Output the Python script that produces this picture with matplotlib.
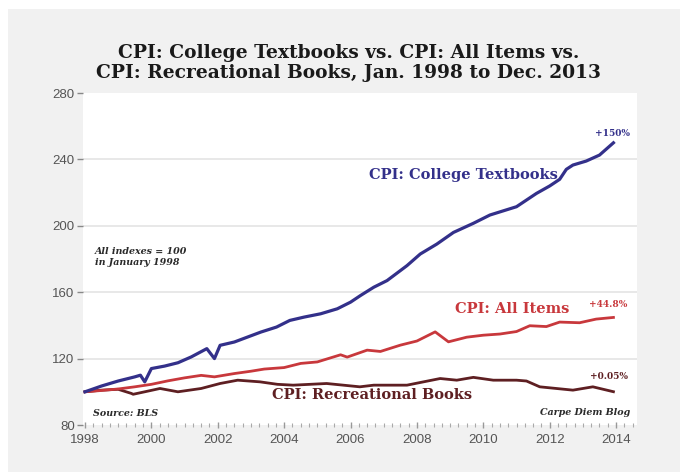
import matplotlib
matplotlib.use("Agg")
import matplotlib.pyplot as plt
from matplotlib.patches import Rectangle
from matplotlib.ticker import MultipleLocator

# ---------------- data ----------------
tb_x = [1998.0, 1998.5, 1999.0, 1999.5, 1999.67, 1999.8, 2000.0, 2000.4, 2000.8,
        2001.2, 2001.67, 2001.9, 2002.07, 2002.5, 2002.9, 2003.3, 2003.77, 2004.17,
        2004.6, 2005.1, 2005.6, 2006.0, 2006.3, 2006.7, 2007.1, 2007.7, 2008.1,
        2008.6, 2009.1, 2009.7, 2010.2, 2010.6, 2011.0, 2011.6, 2012.0, 2012.3,
        2012.5, 2012.7, 2013.1, 2013.5, 2013.92]
tb_y = [100, 103.5, 106.5, 109, 110, 106, 114, 115.5, 117.5,
        121, 126, 120, 128, 130, 133, 136, 139, 143,
        145, 147, 150, 154, 158, 163, 167, 176, 183,
        189, 196, 201.5, 206.5, 209, 211.5, 219.5, 224, 228,
        234, 236.6, 239, 242.6, 250]

all_x = [1998.0, 1998.5, 1999.0, 1999.5, 2000.0, 2000.5, 2001.0, 2001.5, 2001.9,
         2002.5, 2003.0, 2003.4, 2004.0, 2004.5, 2005.0, 2005.7, 2005.9, 2006.5,
         2006.9, 2007.5, 2008.0, 2008.55, 2008.95, 2009.5, 2010.0, 2010.5, 2011.0,
         2011.4, 2011.9, 2012.3, 2012.9, 2013.4, 2013.92]
all_y = [100, 100.8, 101.7, 103.0, 104.5, 106.6, 108.4, 109.9, 109.0,
         111.0, 112.4, 113.7, 114.6, 117.1, 118.0, 122.3, 120.9, 125.1,
         124.3, 128.1, 130.6, 136.1, 130.1, 132.9, 134.1, 134.8, 136.3,
         139.8, 139.3, 142.0, 141.6, 143.8, 144.8]

rec_x = [1998.0, 1998.5, 1999.0, 1999.4, 1999.45, 1999.8, 2000.26, 2000.8, 2001.5,
         2002.07, 2002.6, 2003.27, 2003.8, 2004.27, 2005.28, 2006.28, 2006.7, 2007.7,
         2008.2, 2008.7, 2009.2, 2009.7, 2010.3, 2011.0, 2011.3, 2011.7, 2012.2,
         2012.7, 2013.3, 2013.92]
rec_y = [100, 101, 101.5, 99, 98.5, 100, 102, 100, 102,
         105, 107, 106, 104.5, 104, 105, 103, 104, 104,
         106, 108, 107, 108.7, 107, 107, 106.5, 103, 102,
         101, 103, 100.05]

y_ticks = [80, 120, 160, 200, 240, 280]
x_ticks = [1998, 2000, 2002, 2004, 2006, 2008, 2010, 2012, 2014]

title = "CPI: College Textbooks vs. CPI: All Items vs.\nCPI: Recreational Books, Jan. 1998 to Dec. 2013"

# ---------------- styling ----------------
BLUE = "#33308a"
RED = "#c8383c"
MAROON = "#5e1f22"
SERIF = ["DejaVu Serif"]

fig = plt.figure(figsize=(6.8, 4.72), dpi=100, facecolor="white")
fig.patches.append(Rectangle((8 / 680, 0), 1, 1 - 9 / 472, transform=fig.transFigure,
                             facecolor="#f1f1f1", edgecolor="none", zorder=-10))

ax = fig.add_axes([83 / 680, 1 - 425 / 472, (637 - 83) / 680, (425 - 93) / 472])
ax.set_zorder(1)
ax.set_facecolor("white")
ax.set_xlim(1997.94, 2014.63)
ax.set_ylim(80, 280)

for s in ax.spines.values():
    s.set_visible(False)

ax.set_yticks(y_ticks)
ax.set_yticklabels([str(v) for v in y_ticks])
ax.set_xticks(x_ticks)
ax.set_xticklabels([str(v) for v in x_ticks])
ax.xaxis.set_minor_locator(MultipleLocator(0.25))
ax.tick_params(axis="y", which="major", length=4, width=1, color="#888888",
               labelsize=9.5, labelcolor="#555555", pad=2)
ax.tick_params(axis="x", which="major", length=5, width=1, color="#999999",
               labelsize=9.5, labelcolor="#555555", pad=4, direction="inout")
ax.tick_params(axis="x", which="minor", length=3, width=0.8, color="#aaaaaa",
               direction="inout")
for lab in ax.get_xticklabels() + ax.get_yticklabels():
    lab.set_family(["Liberation Sans", "DejaVu Sans"])

for v in y_ticks[1:-1]:
    ax.axhline(v, color="#e4e4e4", lw=1.2, zorder=1)

ax.plot(rec_x, rec_y, color=MAROON, lw=2.0, zorder=3)
ax.plot(all_x, all_y, color=RED, lw=2.0, zorder=4)
ax.plot(tb_x, tb_y, color=BLUE, lw=2.3, zorder=5)

fig.text(0.513, 1 - 63 / 472, title, ha="center", va="center", fontsize=13.4,
         fontweight="bold", family=SERIF, color="#1a1a1a", linespacing=1.2)

ax.text(2009.4, 230.6, "CPI: College Textbooks", color=BLUE, fontsize=10.5,
        fontweight="bold", family=SERIF, ha="center", va="center")
ax.text(2010.88, 149.9, "CPI: All Items", color=RED, fontsize=10.5,
        fontweight="bold", family=SERIF, ha="center", va="center")
ax.text(2006.66, 98.0, "CPI: Recreational Books", color=MAROON, fontsize=10.5,
        fontweight="bold", family=SERIF, ha="center", va="center")

ax.text(2013.9, 255.9, "+150%", color=BLUE, fontsize=6.5, fontweight="bold",
        family=SERIF, ha="center", va="center")
ax.text(2013.75, 152.3, "+44.8%", color=RED, fontsize=6.5, fontweight="bold",
        family=SERIF, ha="center", va="center")
ax.text(2013.8, 109.0, "+0.05%", color=MAROON, fontsize=6.5, fontweight="bold",
        family=SERIF, ha="center", va="center")

ax.text(1998.3, 181.4, "All indexes = 100\nin January 1998", color="#2a2a2a",
        fontsize=6.8, fontweight="bold", fontstyle="italic", family=SERIF,
        ha="left", va="center", linespacing=1.3)
ax.text(1998.24, 87.2, "Source: BLS", color="#2a2a2a", fontsize=6.8,
        fontweight="bold", fontstyle="italic", family=SERIF, ha="left", va="center")
ax.text(2014.42, 87.4, "Carpe Diem Blog", color="#2a2a2a", fontsize=6.8,
        fontweight="bold", fontstyle="italic", family=SERIF, ha="right", va="center")

fig.savefig("out.png", dpi=100, facecolor=fig.get_facecolor())
